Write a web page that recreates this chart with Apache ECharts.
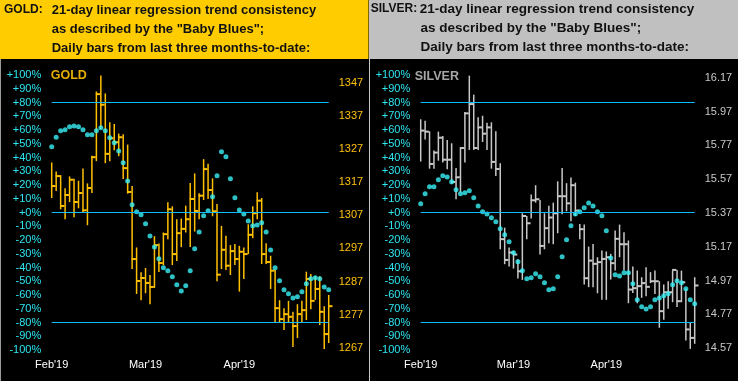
<!DOCTYPE html>
<html><head><meta charset="utf-8">
<script src="https://cdn.jsdelivr.net/npm/echarts@6/dist/echarts.min.js"></script>
<style>html,body{margin:0;padding:0;background:#000;}#c{width:738px;height:381px;}</style>
</head><body><div id="c"></div>
<script>
// ---- categories (trading days) ----
const days = ["01-31",
 "02-01","02-04","02-05","02-06","02-07","02-08","02-11","02-12","02-13","02-14","02-15",
 "02-18","02-19","02-20","02-21","02-22","02-25","02-26","02-27","02-28",
 "03-01","03-04","03-05","03-06","03-07","03-08","03-11","03-12","03-13","03-14","03-15",
 "03-18","03-19","03-20","03-21","03-22","03-25","03-26","03-27","03-28","03-29",
 "04-01","04-02","04-03","04-04","04-05","04-08","04-09","04-10","04-11","04-12",
 "04-15","04-16","04-17","04-18","04-19","04-22","04-23","04-24","04-25","04-26","04-29"];
const monthTickIndex = [0, 21, 42];
const monthTickLabels = ["Feb'19", "Mar'19", "Apr'19"];
const pctTicks = [-100,-90,-80,-70,-60,-50,-40,-30,-20,-10,0,10,20,30,40,50,60,70,80,90,100];
const pctLevels = [80, 0, -80];

// ---- GOLD ----
const goldPriceTicks = [1267,1277,1287,1297,1307,1317,1327,1337,1347];
const goldPct = [47.8,54.8,59.4,60.1,62.3,63.0,62.3,60.1,56.5,56.5,
 59.4,61.6,59.4,54.3,50.7,44.8,36.1,23.0,5.6,0.5,
 -1.7,-8.2,-17.0,-25.0,-33.7,-40.2,-42.4,-46.8,-52.6,-57.0,
 -53.3,-42.4,-26.4,-14.1,-2.4,1.2,11.4,26.7,44.1,40.5,
 24.5,10.7,1.9,-1.0,-6.1,-9.7,-9.0,-7.5,-14.1,-27.2,
 -40.2,-49.7,-56.2,-59.1,-62.1,-61.3,-57.7,-51.9,-48.2,-47.5,
 -48.2,-54.1,-56.2];
const goldHigh = [1322.9,1320.2,1319.1,1315.1,1318.7,1318.0,1317.4,1321.1,1316.6,1324.9,
 1344.3,1349.1,1343.7,1335.0,1334.5,1331.6,1331.4,1328.3,1315.8,1297.3,
 1289.8,1291.1,1289.0,1300.7,1298.5,1301.8,1310.9,1309.7,1305.8,1306.0,
 1309.9,1316.7,1319.6,1313.6,1323.9,1322.5,1318.1,1310.4,1303.8,1300.8,
 1298.0,1298.3,1297.8,1297.3,1304.3,1309.7,1313.9,1312.2,1298.6,1294.8,
 1290.6,1281.4,1279.0,1281.2,1277.9,1280.2,1281.2,1290.0,1289.3,1288.7,
 1288.6,1279.6,1283.0];
const goldLow = [1312.2,1314.3,1308.8,1305.8,1311.0,1306.4,1309.1,1307.7,1304.0,1313.7,
 1323.3,1333.0,1322.7,1323.3,1326.6,1324.8,1317.9,1313.5,1290.8,1283.3,
 1281.4,1283.5,1280.2,1285.1,1289.9,1291.9,1299.8,1292.0,1293.2,1297.4,
 1301.8,1297.4,1302.1,1305.8,1311.6,1311.9,1306.7,1287.1,1290.8,1290.5,
 1289.0,1292.0,1284.0,1287.8,1295.3,1300.1,1305.8,1292.3,1292.3,1284.8,
 1274.8,1274.8,1272.4,1274.7,1267.3,1270.0,1274.8,1275.4,1278.7,1281.5,
 1273.9,1266.7,1268.5];
const goldClose = [1315.8,1318.8,1309.8,1313.1,1317.7,1311.0,1313.7,1308.5,1315.2,1324.5,
 1343.5,1340.3,1325.5,1330.2,1329.0,1330.5,1321.2,1314.0,1293.8,1287.2,
 1288.1,1286.6,1285.4,1298.0,1292.6,1301.3,1308.8,1295.3,1301.6,1302.9,
 1305.8,1311.9,1308.3,1312.9,1320.9,1314.6,1308.2,1289.1,1296.6,1291.8,
 1296.2,1293.8,1296.0,1295.3,1301.1,1307.6,1311.4,1295.3,1292.9,1290.3,
 1279.0,1275.7,1277.2,1276.4,1273.6,1277.2,1278.4,1287.8,1281.2,1284.8,
 1277.9,1271.2,1279.6];

// ---- SILVER ----
const silverPriceTicks = [14.57,14.77,14.97,15.17,15.37,15.57,15.77,15.97,16.17];
const silverPct = [6.3,13.6,18.7,18.7,23.8,26.7,25.9,22.3,16.5,13.6,
 14.3,15.8,10.7,4.8,0.5,-1.0,-3.9,-6.8,-11.9,-16.2,
 -21.3,-29.3,-35.9,-42.4,-48.2,-47.5,-44.6,-46.8,-51.1,-56.2,
 -55.5,-46.8,-32.2,-19.9,-9.7,-1.0,0.5,3.4,7.0,4.8,
 0.5,-2.4,-13.3,-33.0,-45.3,-46.1,-43.9,-43.9,-51.9,-63.5,
 -68.6,-70.1,-68.6,-63.5,-62.1,-60.6,-59.1,-52.6,-49.7,-51.1,
 -55.5,-63.5,-66.4];
const silverHigh = [15.924,15.916,15.853,15.739,15.851,15.825,15.802,15.782,15.636,15.758,
 15.967,16.182,16.070,15.936,15.945,15.904,15.906,15.853,15.664,15.283,
 15.165,15.146,15.096,15.368,15.352,15.479,15.534,15.447,15.368,15.412,
 15.431,15.557,15.636,15.546,15.579,15.549,15.305,15.301,15.171,15.187,
 15.108,15.148,15.142,15.128,15.266,15.301,15.256,15.207,15.053,15.029,
 14.990,15.049,15.020,15.029,14.966,14.947,14.966,15.029,15.033,15.029,
 14.921,14.722,14.990];
const silverLow = [15.674,15.804,15.632,15.632,15.679,15.668,15.628,15.540,15.451,15.490,
 15.668,15.743,15.743,15.743,15.790,15.743,15.632,15.589,15.155,15.067,
 15.053,15.041,14.982,14.974,15.215,15.337,15.431,15.124,15.155,15.191,
 15.185,15.250,15.362,15.380,15.321,15.352,15.215,14.947,14.931,14.931,
 14.895,14.856,14.856,14.976,15.029,15.108,15.029,14.836,14.897,14.836,
 14.868,14.878,14.955,14.891,14.691,14.738,14.803,14.842,14.813,14.842,
 14.616,14.566,14.596];
const silverClose = [15.857,15.851,15.660,15.727,15.815,15.685,15.685,15.553,15.581,15.754,
 15.959,16.014,15.754,15.876,15.839,15.876,15.672,15.630,15.215,15.092,
 15.136,15.124,15.025,15.352,15.309,15.445,15.451,15.175,15.280,15.343,
 15.368,15.469,15.469,15.427,15.534,15.384,15.274,14.984,15.088,15.069,
 15.079,15.098,15.108,15.073,15.217,15.185,15.185,14.917,14.925,14.937,
 14.955,14.933,14.966,14.966,14.789,14.901,14.901,15.033,14.848,14.960,
 14.681,14.631,14.941];

// ---- styling ----
const FONT = '"Liberation Sans", Arial, sans-serif';
const CYAN_TXT = '#2EE6F2';
const DOT = '#38F0F5';
const LEVEL = '#10BEFF';
const GOLD_BAR = '#FFC000';
const SILVER_BAR = '#C8C8C8';

function hlcData(h, l, c) { return h.map((v, i) => [i, v, l[i], c[i]]); }
function barSeries(xi, yi, data, color) {
  return {
    type: 'custom', xAxisIndex: xi, yAxisIndex: yi, data: data, silent: true, z: 2,
    encode: { x: 0, y: [1, 2, 3] },
    renderItem: function (params, api) {
      const i = api.value(0);
      const ph = api.coord([i, api.value(1)]);
      const pl = api.coord([i, api.value(2)]);
      const pc = api.coord([i, api.value(3)]);
      const x = ph[0];
      return { type: 'group', children: [
        { type: 'line', shape: { x1: x, y1: ph[1], x2: x, y2: pl[1] }, style: { stroke: color, lineWidth: 1.5 } },
        { type: 'line', shape: { x1: x - 0.5, y1: pc[1], x2: x + 3.8, y2: pc[1] }, style: { stroke: color, lineWidth: 2 } }
      ]};
    }
  };
}
function dotSeries(xi, yi, vals) {
  return {
    type: 'scatter', xAxisIndex: xi, yAxisIndex: yi, silent: true, z: 3,
    data: vals.map((v, i) => [i, v]), symbol: 'circle', symbolSize: 5,
    itemStyle: { color: DOT },
    markLine: {
      silent: true, symbol: ['none', 'none'], label: { show: false },
      lineStyle: { color: LEVEL, width: 1, type: 'solid' },
      data: pctLevels.map(v => ({ yAxis: v }))
    }
  };
}
function catAxis(gi, showLabels) {
  return {
    type: 'category', gridIndex: gi, data: days, boundaryGap: false, show: showLabels,
    axisLine: { show: false }, axisTick: { show: false }, splitLine: { show: false },
    axisLabel: {
      show: showLabels, color: '#FFFFFF', fontSize: 11, fontFamily: FONT, margin: 9,
      interval: (idx) => monthTickIndex.indexOf(idx) >= 0,
      formatter: (v, idx) => monthTickLabels[monthTickIndex.indexOf(idx)] || ''
    }
  };
}
function pctAxis(gi) {
  return {
    type: 'value', gridIndex: gi, position: 'left',
    min: pctTicks[0], max: pctTicks[pctTicks.length - 1], interval: pctTicks[1] - pctTicks[0],
    axisLine: { show: false }, axisTick: { show: false }, splitLine: { show: false },
    axisLabel: { color: CYAN_TXT, fontSize: 11, fontFamily: FONT, margin: 10.5,
      formatter: v => (v >= 0 ? '+' : '') + v + '%' }
  };
}
function priceAxis(gi, ticks, color, dec) {
  return {
    type: 'value', gridIndex: gi, position: 'right',
    min: ticks[0], max: ticks[ticks.length - 1], interval: +(ticks[1] - ticks[0]).toFixed(4),
    axisLine: { show: false }, axisTick: { show: false }, splitLine: { show: false },
    axisLabel: { color: color, fontSize: 11, fontFamily: FONT, margin: 10,
      formatter: v => v.toFixed(dec) }
  };
}
function txt(x, y, s, size, color, weight) {
  return { type: 'text', x: x, y: y, silent: true, z: 10,
    style: { text: s, fill: color, font: (weight || 'bold') + ' ' + size + 'px ' + FONT, verticalAlign: 'middle', align: 'left' } };
}

const chart = echarts.init(document.getElementById('c'), null, { renderer: 'canvas' });
chart.setOption({
  animation: false,
  backgroundColor: '#000000',
  grid: [
    { left: 51.7, top: 75, width: 277, height: 275 },
    { left: 51.7, top: 82.5, width: 277, height: 265.5 },
    { left: 420.7, top: 75, width: 274, height: 275 },
    { left: 420.7, top: 77.7, width: 274, height: 270.5 }
  ],
  xAxis: [catAxis(0, true), catAxis(1, false), catAxis(2, true), catAxis(3, false)],
  yAxis: [pctAxis(0), priceAxis(1, goldPriceTicks, '#FFC20E', 0), pctAxis(2), priceAxis(3, silverPriceTicks, '#C8C8C8', 2)],
  series: [
    barSeries(1, 1, hlcData(goldHigh, goldLow, goldClose), GOLD_BAR),
    dotSeries(0, 0, goldPct),
    barSeries(3, 3, hlcData(silverHigh, silverLow, silverClose), SILVER_BAR),
    dotSeries(2, 2, silverPct)
  ],
  graphic: [
    { type: 'rect', shape: { x: 0, y: 0, width: 368.5, height: 59 }, style: { fill: '#FFCC00' }, silent: true, z: 1 },
    { type: 'rect', shape: { x: 369, y: 0, width: 369, height: 59 }, style: { fill: '#C0C0C0' }, silent: true, z: 1 },
    { type: 'line', shape: { x1: 0.5, y1: 59, x2: 0.5, y2: 381 }, style: { stroke: '#9A9A9A', lineWidth: 1 }, silent: true, z: 1 },
    { type: 'line', shape: { x1: 369.5, y1: 59, x2: 369.5, y2: 381 }, style: { stroke: '#C8C8C8', lineWidth: 1 }, silent: true, z: 1 },
    txt(4, 10, 'GOLD:', 12, '#111111'),
    txt(51.7, 10, '21-day linear regression trend consistency', 13, '#111111'),
    txt(51.7, 29.4, 'as described by the "Baby Blues";', 13, '#111111'),
    txt(51.7, 48.5, 'Daily bars from last three months-to-date:', 13, '#111111'),
    txt(370.7, 9, 'SILVER:', 12, '#111111'),
    txt(419.7, 9, '21-day linear regression trend consistency', 13.5, '#111111'),
    txt(420.5, 28.5, 'as described by the "Baby Blues";', 13.5, '#111111'),
    txt(420.5, 47, 'Daily bars from last three months-to-date:', 13.5, '#111111'),
    txt(50.7, 76, 'GOLD', 12.5, '#E6AE00'),
    txt(414.7, 76.3, 'SILVER', 12.5, '#A6A6A6')
  ]
});
</script></body></html>
